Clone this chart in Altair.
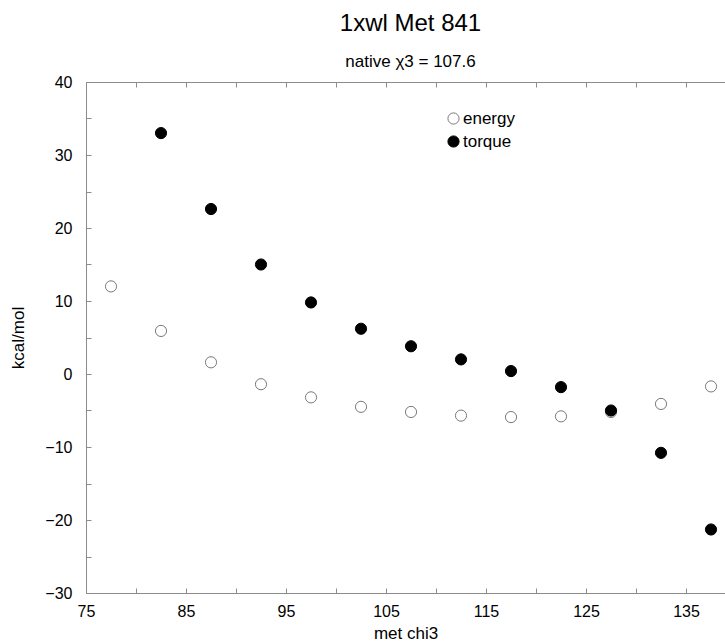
import altair as alt
import pandas as pd

# Met 841 chi3 scan: conformational energy and torque (kcal/mol)
chi3_energy = [77.5, 82.5, 87.5, 92.5, 97.5, 102.5, 107.5, 112.5, 117.5, 122.5, 127.5, 132.5, 137.5]
energy = [12.0, 5.9, 1.6, -1.4, -3.2, -4.5, -5.2, -5.7, -5.9, -5.8, -5.2, -4.1, -1.7]

chi3_torque = [82.5, 87.5, 92.5, 97.5, 102.5, 107.5, 112.5, 117.5, 122.5, 127.5, 132.5, 137.5]
torque = [33.0, 22.6, 15.0, 9.8, 6.2, 3.8, 2.0, 0.4, -1.8, -5.0, -10.8, -21.3]

series_names = ["energy", "torque"]
x_ticks = list(range(75, 140, 5))
y_ticks = list(range(-30, 45, 5))

rows = [{"chi3": c, "kcal": v, "series": "energy"} for c, v in zip(chi3_energy, energy)]
rows += [{"chi3": c, "kcal": v, "series": "torque"} for c, v in zip(chi3_torque, torque)]
df = pd.DataFrame(rows)

FONT = "Liberation Sans"
AXIS_GRAY = "#8c8c8c"

x_scale = alt.Scale(domain=[75, 138.9], nice=False, zero=False)
y_scale = alt.Scale(domain=[-30, 40], nice=False, zero=False)

x_bottom = alt.Axis(
    title="met chi3",
    values=x_ticks,
    labelExpr="(datum.value - 75) % 10 === 0 ? datum.label : ''",
    tickSize=alt.ExprRef("-5"),
    labelPadding=15,
    titlePadding=6,
)
x_top = alt.Axis(
    title=None,
    orient="top",
    values=x_ticks,
    labels=False,
    tickSize=alt.ExprRef("-5"),
)
y_left = alt.Axis(
    title="kcal/mol",
    values=y_ticks,
    labelExpr="datum.value % 10 === 0 ? datum.label : ''",
    tickSize=alt.ExprRef("-5"),
    labelPadding=19,
    titlePadding=17,
)

points = alt.Chart(df).mark_point(filled=True, size=125, strokeWidth=1, opacity=1).encode(
    x=alt.X("chi3:Q", scale=x_scale, axis=x_bottom),
    y=alt.Y("kcal:Q", scale=y_scale, axis=y_left),
    fill=alt.Fill(
        "series:N",
        scale=alt.Scale(domain=series_names, range=["transparent", "black"]),
        legend=alt.Legend(
            title=None,
            orient="none",
            legendX=359,
            legendY=28,
            labelFont=FONT,
            labelFontSize=17,
            labelColor="black",
            symbolSize=125,
            symbolStrokeWidth=1,
            rowPadding=5,
            labelOffset=1,
            padding=0,
        ),
    ),
    stroke=alt.Stroke(
        "series:N",
        scale=alt.Scale(domain=series_names, range=["#7a7a7a", "black"]),
        legend=alt.Legend(title=None, orient="none", legendX=359, legendY=28),
    ),
    order=alt.Order("series:N"),
)

top_axis = alt.Chart(df).mark_point(opacity=0).encode(
    x=alt.X("chi3:Q", scale=x_scale, axis=x_top),
)

chart = (
    alt.layer(points, top_axis)
    .resolve_axis(x="independent")
    .properties(
        width=639,
        height=511,
        autosize=alt.AutoSizeParams(type="none"),
        padding={"left": 86, "top": 82, "right": 0, "bottom": 49},
        title=alt.TitleParams(
            "1xwl Met 841",
            subtitle="native χ3 = 107.6",
            font=FONT,
            fontSize=24,
            fontWeight="normal",
            color="black",
            subtitleFont=FONT,
            subtitleFontSize=17,
            subtitleColor="black",
            subtitlePadding=18,
            anchor="middle",
            offset=4,
            dx=5,
        ),
    )
    .configure_view(stroke=None)
    .configure_axis(
        labelFont=FONT,
        labelFontSize=16,
        labelColor="black",
        titleFont=FONT,
        titleFontSize=17,
        titleFontWeight="normal",
        titleColor="black",
        domainColor=AXIS_GRAY,
        tickColor=AXIS_GRAY,
        grid=False,
        labelFlush=False,
        labelOverlap=False,
    )
)

chart.save("out.html", embed_options={"renderer": "svg", "actions": False})
